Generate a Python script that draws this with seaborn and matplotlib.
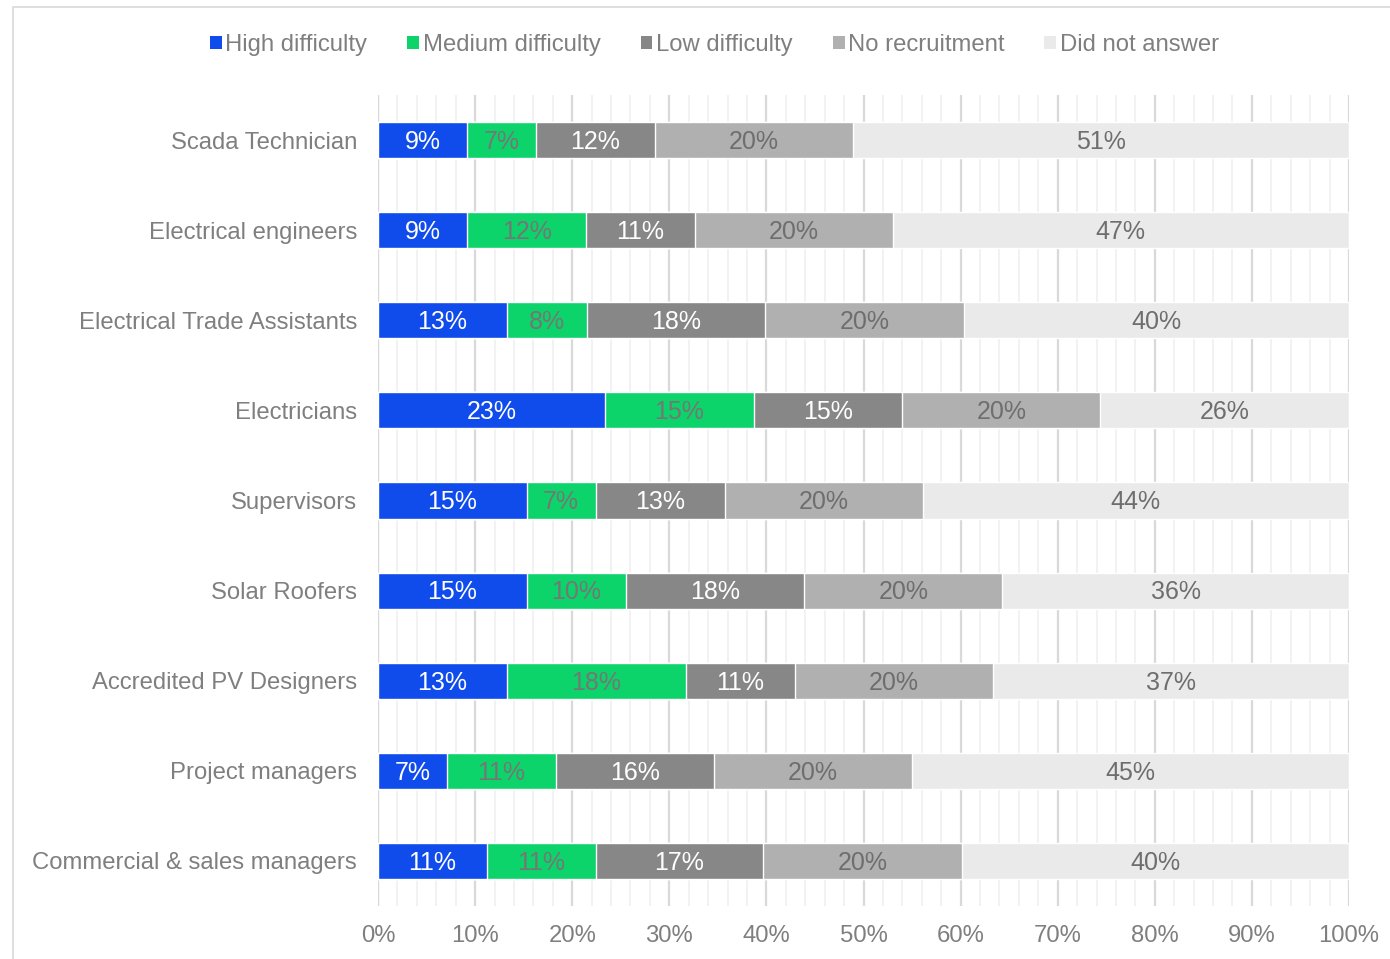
import numpy as np
import pandas as pd
import seaborn as sns
import matplotlib.pyplot as plt
from matplotlib.patches import Patch, Rectangle
from matplotlib.ticker import MultipleLocator, PercentFormatter


sns.set_theme(style="white")
plt.rcParams["font.family"] = ["Liberation Sans", "DejaVu Sans"]

roles = [
    "Scada Technician",
    "Electrical engineers",
    "Electrical Trade Assistants",
    "Electricians",
    "Supervisors",
    "Solar Roofers",
    "Accredited PV Designers",
    "Project managers",
    "Commercial & sales managers",
]

series = ["High difficulty", "Medium difficulty", "Low difficulty",
          "No recruitment", "Did not answer"]

# percent of respondents
high = [9.2, 9.2, 13.3, 23.4, 15.3, 15.3, 13.3, 7.1, 11.2]
medium = [7.1, 12.2, 8.2, 15.3, 7.1, 10.2, 18.4, 11.2, 11.2]
low = [12.2, 11.2, 18.4, 15.3, 13.3, 18.4, 11.2, 16.3, 17.3]
no_recruit = [20.4, 20.4, 20.4, 20.4, 20.4, 20.4, 20.4, 20.4, 20.4]
no_answer = [51.1, 47.0, 39.7, 25.6, 43.9, 35.7, 36.7, 45.0, 39.9]

colors = ["#104BEB", "#0CD46A", "#878787", "#B0B0B0", "#EAEAEA"]
label_colors = ["white", "#767676", "white", "#6E6E6E", "#6E6E6E"]
TEXT = "#7F7F7F"

values = [high, medium, low, no_recruit, no_answer]
cum = np.cumsum(np.array(values), axis=0)

fig = plt.figure(figsize=(13.9, 9.59), dpi=100)
ax = fig.add_axes([378 / 1390, 1 - 906 / 959, (1349 - 378) / 1390, (906 - 95) / 959])

# stacked bars: draw the longest cumulative first, shorter ones on top
for i in range(len(series) - 1, -1, -1):
    df = pd.DataFrame({"role": roles, "end": cum[i]})
    sns.barplot(data=df, x="end", y="role", orient="h", color=colors[i],
                saturation=1, width=0.4, ax=ax, zorder=2)

for i in range(len(series)):
    for j, role in enumerate(roles):
        mid = cum[i][j] - values[i][j] / 2
        ax.text(mid, j + 0.02, f"{values[i][j]:.0f}%", ha="center", va="center",
                fontsize=18, color=label_colors[i], zorder=3)

ax.set_xlim(0, 100)
ax.set_ylim(8.5, -0.5)
ax.xaxis.set_major_locator(MultipleLocator(10))
ax.xaxis.set_minor_locator(MultipleLocator(2))
ax.xaxis.set_major_formatter(PercentFormatter(decimals=0))
ax.grid(axis="x", which="major", color="#D9D9D9", linewidth=1.6, zorder=0)
ax.grid(axis="x", which="minor", color="#F0F0F0", linewidth=1.2, zorder=0)
ax.set_axisbelow(True)
for side in ax.spines.values():
    side.set_visible(False)
ax.set_xlabel("")
ax.set_ylabel("")
ax.tick_params(axis="x", labelsize=17.2, colors=TEXT, pad=14, which="both", length=0)
ax.tick_params(axis="y", labelsize=17.2, colors=TEXT, pad=15, length=0)
ax.axvline(0, color="#D9D9D9", linewidth=1.6, zorder=1)

handles = [Patch(facecolor=c, edgecolor="none", label=s) for c, s in zip(colors, series)]
fig.legend(handles=handles, loc="center", bbox_to_anchor=(0.514, 1 - 45 / 959),
           ncol=5, frameon=False, fontsize=17.2, labelcolor=TEXT,
           handlelength=0.5, handleheight=0.5, handletextpad=0.15,
           columnspacing=1.67)

# light frame around the chart area
fig.patches.append(Rectangle((13 / 1390, -0.1), 1.2, 1 - 7 / 959 + 0.1,
                             transform=fig.transFigure, fill=False,
                             edgecolor="#D9D9D9", linewidth=1.2))

fig.savefig("out.png", dpi=100)
